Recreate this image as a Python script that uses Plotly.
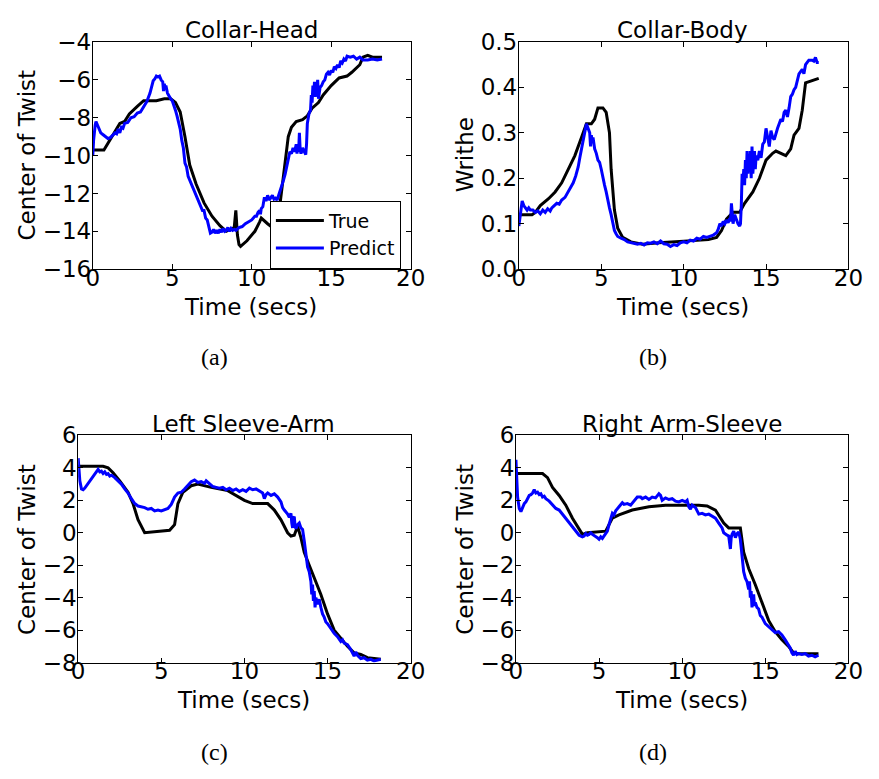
import plotly.graph_objects as go

# ---------------- data ----------------
a_true_t = [0, 0.7, 1.2, 1.7, 2.0, 2.3, 2.8, 3.2, 3.5, 4.0, 4.5, 4.9, 5.2, 5.5, 5.8, 6.1, 6.5, 7.0, 7.5, 8.0, 8.4, 8.7, 8.9, 9.0, 9.1, 9.2, 9.3, 9.7, 10.2, 10.5, 10.6, 11.0, 11.3, 11.6, 11.8, 12.1, 12.3, 12.5, 12.8, 13.2, 13.5, 13.8, 14.2, 14.5, 15.0, 15.5, 16.0, 16.3, 16.8, 17.0, 17.3, 17.6, 18.2]
a_true_v = [-9.7, -9.7, -9.0, -8.3, -8.2, -7.8, -7.4, -7.1, -7.1, -7.1, -7.0, -7.0, -7.2, -7.7, -9.0, -10.5, -11.5, -12.5, -13.2, -13.7, -14.0, -13.9, -13.8, -12.9, -14.2, -14.7, -14.8, -14.5, -14.0, -13.5, -13.3, -13.6, -13.8, -13.8, -12.4, -10.5, -9.0, -8.5, -8.2, -8.1, -7.9, -7.5, -7.2, -6.8, -6.3, -5.9, -5.8, -5.6, -5.2, -4.8, -4.7, -4.8, -4.8]
a_pred = [(0, -10.0), (0.05, -9.2), (0.15, -8.4), (0.2, -8.2), (0.3, -8.4), (0.4, -8.6), (0.5, -8.8), (0.65, -8.9), (0.8, -9.0), (0.95, -9.1), (1.1, -9.05), (1.25, -8.95), (1.4, -8.8), (1.5, -8.85), (1.6, -8.6), (1.7, -8.8), (1.8, -8.5), (1.9, -8.55), (2.0, -8.3), (2.2, -8.25), (2.4, -8.0), (2.6, -7.95), (2.8, -7.75), (3.0, -7.7), (3.2, -7.45), (3.4, -7.15), (3.6, -6.7), (3.7, -6.4), (3.8, -6.05), (3.9, -5.95), (4.0, -5.8), (4.1, -5.85), (4.2, -5.8), (4.3, -6.0), (4.4, -6.1), (4.45, -6.6), (4.5, -6.2), (4.55, -6.5), (4.6, -6.3), (4.7, -6.7), (4.8, -6.9), (4.9, -7.0), (5.0, -7.1), (5.1, -7.3), (5.2, -7.6), (5.3, -7.9), (5.4, -8.2), (5.5, -8.6), (5.6, -9.2), (5.7, -9.6), (5.8, -10.4), (5.9, -10.6), (6.0, -11.1), (6.1, -11.3), (6.2, -11.5), (6.3, -11.7), (6.45, -12.0), (6.6, -12.3), (6.75, -12.5), (6.9, -12.9), (7.0, -12.9), (7.1, -13.3), (7.2, -13.4), (7.3, -13.8), (7.4, -14.1), (7.5, -14.05), (7.6, -13.9), (7.7, -14.1), (7.8, -13.95), (7.9, -14.1), (8.0, -13.9), (8.1, -14.05), (8.2, -13.85), (8.3, -14.0), (8.4, -13.95), (8.5, -13.8), (8.6, -14.0), (8.7, -13.85), (8.8, -13.95), (8.9, -13.9), (9.0, -13.95), (9.2, -13.8), (9.4, -13.75), (9.6, -13.6), (9.8, -13.5), (10.0, -13.4), (10.2, -13.2), (10.3, -13.2), (10.4, -13.0), (10.5, -12.9), (10.55, -13.1), (10.6, -12.8), (10.7, -12.7), (10.8, -12.2), (10.9, -12.4), (11.0, -12.1), (11.1, -12.35), (11.2, -12.2), (11.3, -12.1), (11.4, -12.3), (11.5, -12.25), (11.6, -12.35), (11.7, -12.1), (11.8, -11.9), (11.9, -11.6), (12.0, -11.3), (12.1, -11.0), (12.2, -10.6), (12.3, -10.2), (12.4, -9.8), (12.5, -9.9), (12.6, -9.6), (12.7, -9.8), (12.8, -9.4), (12.85, -9.9), (12.9, -9.5), (12.95, -9.8), (13.0, -8.8), (13.05, -9.7), (13.1, -9.9), (13.2, -9.6), (13.3, -9.8), (13.4, -9.95), (13.45, -9.4), (13.5, -8.3), (13.6, -7.8), (13.7, -7.6), (13.75, -6.8), (13.8, -7.2), (13.85, -6.3), (13.9, -6.8), (13.95, -6.1), (14.0, -6.9), (14.05, -6.2), (14.1, -6.6), (14.15, -6.0), (14.2, -7.0), (14.3, -6.4), (14.4, -6.3), (14.5, -6.1), (14.6, -6.0), (14.7, -5.7), (14.8, -5.6), (14.9, -5.75), (15.0, -5.5), (15.1, -5.6), (15.2, -5.3), (15.3, -5.4), (15.4, -5.2), (15.5, -5.35), (15.6, -5.0), (15.7, -5.1), (15.8, -4.9), (15.9, -5.0), (16.0, -4.75), (16.2, -4.8), (16.4, -4.75), (16.6, -4.9), (16.8, -4.8), (17.0, -4.95), (17.3, -4.95), (17.6, -4.9), (17.9, -4.95), (18.2, -4.9)]

b_true_t = [0, 0.8, 1.0, 1.3, 1.8, 2.2, 2.6, 3.0, 3.4, 3.8, 4.1, 4.4, 4.6, 4.8, 5.1, 5.3, 5.5, 5.6, 5.8, 6.0, 6.3, 6.8, 7.5, 8.5, 9.5, 10.5, 11.5, 12.0, 12.3, 12.6, 13.0, 13.4, 13.7, 14.2, 14.6, 15.0, 15.4, 15.6, 15.9, 16.2, 16.5, 16.7, 17.0, 17.2, 17.4, 17.8, 18.2]
b_true_v = [0.12, 0.12, 0.125, 0.14, 0.155, 0.17, 0.19, 0.22, 0.25, 0.29, 0.32, 0.32, 0.33, 0.355, 0.355, 0.345, 0.30, 0.22, 0.13, 0.09, 0.07, 0.06, 0.055, 0.058, 0.06, 0.063, 0.065, 0.07, 0.085, 0.11, 0.125, 0.125, 0.145, 0.17, 0.20, 0.24, 0.255, 0.26, 0.255, 0.25, 0.265, 0.295, 0.31, 0.35, 0.41, 0.415, 0.42]
b_pred = [(0, 0.095), (0.05, 0.11), (0.1, 0.13), (0.2, 0.15), (0.3, 0.14), (0.4, 0.135), (0.5, 0.13), (0.6, 0.135), (0.7, 0.13), (0.85, 0.13), (1.0, 0.125), (1.15, 0.128), (1.3, 0.122), (1.45, 0.13), (1.6, 0.125), (1.75, 0.133), (1.9, 0.128), (2.0, 0.135), (2.15, 0.14), (2.3, 0.145), (2.45, 0.143), (2.6, 0.152), (2.8, 0.158), (3.0, 0.17), (3.15, 0.178), (3.3, 0.19), (3.45, 0.205), (3.6, 0.225), (3.7, 0.245), (3.8, 0.265), (3.9, 0.285), (4.0, 0.305), (4.1, 0.32), (4.2, 0.31), (4.3, 0.30), (4.35, 0.27), (4.4, 0.295), (4.45, 0.28), (4.5, 0.29), (4.6, 0.265), (4.7, 0.255), (4.8, 0.24), (4.9, 0.235), (5.0, 0.22), (5.1, 0.2), (5.2, 0.185), (5.3, 0.17), (5.4, 0.15), (5.5, 0.135), (5.6, 0.12), (5.7, 0.1), (5.8, 0.085), (5.9, 0.078), (6.0, 0.072), (6.2, 0.068), (6.4, 0.065), (6.6, 0.06), (6.8, 0.058), (7.0, 0.056), (7.2, 0.055), (7.4, 0.057), (7.6, 0.053), (7.8, 0.058), (8.0, 0.057), (8.2, 0.06), (8.4, 0.056), (8.6, 0.062), (8.8, 0.056), (9.0, 0.055), (9.2, 0.05), (9.4, 0.054), (9.6, 0.052), (9.8, 0.058), (10.0, 0.06), (10.2, 0.058), (10.4, 0.064), (10.6, 0.062), (10.8, 0.068), (11.0, 0.066), (11.2, 0.072), (11.4, 0.07), (11.6, 0.072), (11.8, 0.075), (12.0, 0.08), (12.1, 0.088), (12.2, 0.1), (12.3, 0.095), (12.4, 0.105), (12.5, 0.1), (12.6, 0.108), (12.7, 0.102), (12.8, 0.112), (12.85, 0.105), (12.9, 0.145), (12.95, 0.11), (13.0, 0.1), (13.1, 0.12), (13.2, 0.11), (13.3, 0.1), (13.4, 0.095), (13.45, 0.1), (13.5, 0.14), (13.55, 0.21), (13.6, 0.19), (13.65, 0.22), (13.7, 0.185), (13.75, 0.24), (13.8, 0.2), (13.85, 0.26), (13.9, 0.21), (13.95, 0.25), (14.0, 0.22), (14.05, 0.26), (14.1, 0.2), (14.15, 0.27), (14.2, 0.21), (14.3, 0.26), (14.35, 0.22), (14.4, 0.25), (14.5, 0.24), (14.6, 0.26), (14.7, 0.245), (14.8, 0.275), (14.9, 0.28), (15.0, 0.31), (15.1, 0.29), (15.2, 0.27), (15.3, 0.305), (15.4, 0.29), (15.5, 0.285), (15.6, 0.3), (15.7, 0.31), (15.8, 0.32), (15.9, 0.33), (16.0, 0.325), (16.1, 0.345), (16.2, 0.35), (16.3, 0.335), (16.4, 0.355), (16.5, 0.38), (16.6, 0.385), (16.7, 0.395), (16.8, 0.4), (16.9, 0.415), (17.0, 0.43), (17.1, 0.435), (17.2, 0.44), (17.3, 0.43), (17.4, 0.45), (17.5, 0.455), (17.6, 0.46), (17.8, 0.46), (17.9, 0.458), (18.0, 0.466), (18.1, 0.455), (18.2, 0.455)]

c_true_t = [0, 1.5, 1.8, 2.1, 2.5, 3.0, 3.3, 3.6, 4.0, 4.5, 5.0, 5.5, 5.8, 6.0, 6.3, 6.8, 7.2, 8.0, 9.0, 9.5, 10.0, 10.5, 11.0, 11.4, 11.8, 12.2, 12.6, 12.8, 13.0, 13.2, 13.4, 13.6, 13.9, 14.2, 14.6, 15.0, 15.4, 15.8, 16.2, 16.6, 17.0, 17.4, 18.0, 18.2]
c_true_v = [4.1, 4.1, 4.0, 3.7, 3.2, 2.5, 1.8, 0.8, 0.0, 0.05, 0.1, 0.15, 0.5, 1.8, 2.5, 2.9, 3.0, 2.8, 2.6, 2.3, 2.0, 1.8, 1.8, 1.8, 1.4, 0.8, 0.0, -0.2, -0.15, 0.4, -0.3, -1.2, -2.0, -2.8, -3.8, -5.0, -6.0, -6.5, -7.0, -7.4, -7.5, -7.7, -7.8, -7.8]
c_pred = [(0, 4.6), (0.05, 3.8), (0.1, 3.2), (0.2, 2.7), (0.3, 2.65), (0.4, 2.75), (0.5, 2.9), (0.6, 3.05), (0.7, 3.2), (0.8, 3.3), (0.9, 3.45), (1.0, 3.6), (1.1, 3.75), (1.2, 3.9), (1.3, 3.75), (1.4, 3.8), (1.5, 3.65), (1.6, 3.75), (1.7, 3.6), (1.8, 3.65), (1.9, 3.5), (2.0, 3.55), (2.2, 3.4), (2.4, 3.2), (2.6, 3.0), (2.8, 2.7), (3.0, 2.45), (3.2, 2.1), (3.4, 1.8), (3.6, 1.65), (3.8, 1.6), (4.0, 1.55), (4.2, 1.45), (4.4, 1.5), (4.6, 1.35), (4.8, 1.4), (5.0, 1.35), (5.2, 1.45), (5.4, 1.5), (5.6, 1.75), (5.8, 2.2), (6.0, 2.45), (6.2, 2.5), (6.4, 2.7), (6.6, 2.95), (6.8, 3.15), (7.0, 3.25), (7.2, 3.1), (7.4, 3.15), (7.6, 3.05), (7.7, 3.2), (7.9, 3.0), (8.1, 2.85), (8.3, 2.8), (8.5, 2.75), (8.7, 2.8), (8.9, 2.65), (9.1, 2.75), (9.3, 2.6), (9.5, 2.7), (9.7, 2.55), (9.9, 2.65), (10.1, 2.55), (10.3, 2.75), (10.5, 2.65), (10.7, 2.7), (10.9, 2.55), (11.1, 2.45), (11.2, 2.1), (11.3, 2.35), (11.4, 2.45), (11.6, 2.3), (11.8, 2.4), (12.0, 2.2), (12.2, 1.9), (12.3, 1.55), (12.4, 1.4), (12.5, 1.3), (12.6, 1.15), (12.7, 0.95), (12.8, 1.2), (12.85, 0.6), (12.9, 0.3), (12.95, 0.9), (13.0, 1.0), (13.05, 0.4), (13.1, 0.25), (13.2, 0.5), (13.3, 0.6), (13.4, 0.3), (13.5, 0.2), (13.6, -0.5), (13.7, -1.5), (13.8, -2.1), (13.9, -2.4), (14.0, -3.0), (14.05, -3.8), (14.1, -3.2), (14.15, -4.2), (14.2, -3.6), (14.25, -4.6), (14.3, -4.0), (14.4, -4.4), (14.5, -4.1), (14.6, -4.6), (14.7, -5.0), (14.8, -5.2), (14.9, -5.5), (15.0, -5.6), (15.1, -5.8), (15.2, -5.9), (15.4, -6.2), (15.6, -6.4), (15.8, -6.7), (15.9, -6.6), (16.0, -6.8), (16.2, -6.9), (16.4, -7.2), (16.5, -7.4), (16.6, -7.6), (16.7, -7.35), (16.8, -7.55), (17.0, -7.75), (17.2, -7.7), (17.4, -7.85), (17.6, -7.8), (17.8, -7.9), (18.0, -7.85), (18.2, -7.8)]

d_true_t = [0, 1.6, 1.9, 2.2, 2.6, 3.0, 3.4, 3.8, 4.0, 4.3, 5.0, 5.4, 5.8, 6.2, 7.0, 8.0, 9.0, 10.0, 11.0, 11.5, 12.0, 12.5, 12.8, 13.2, 13.5, 13.7, 14.0, 14.4, 14.8, 15.2, 15.6, 16.0, 16.4, 16.7, 17.0, 18.2]
d_true_v = [3.65, 3.65, 3.4, 2.8, 2.3, 1.7, 0.9, 0.2, -0.1, 0.0, 0.05, 0.1, 0.9, 1.1, 1.4, 1.6, 1.7, 1.7, 1.7, 1.65, 1.4, 0.6, 0.3, 0.3, 0.3, -1.2, -2.2, -3.2, -4.3, -5.4, -6.1, -6.6, -7.0, -7.4, -7.45, -7.45]
d_pred = [(0, 4.5), (0.05, 3.0), (0.1, 2.2), (0.2, 1.5), (0.3, 1.3), (0.4, 1.55), (0.5, 1.8), (0.6, 1.9), (0.7, 2.1), (0.8, 2.3), (0.9, 2.35), (1.0, 2.45), (1.1, 2.65), (1.2, 2.45), (1.3, 2.5), (1.4, 2.35), (1.5, 2.4), (1.6, 2.2), (1.7, 2.25), (1.8, 2.1), (2.0, 1.95), (2.2, 1.75), (2.4, 1.5), (2.6, 1.4), (2.8, 1.15), (3.0, 0.9), (3.2, 0.6), (3.4, 0.35), (3.6, 0.1), (3.8, -0.15), (4.0, -0.25), (4.1, -0.2), (4.2, -0.05), (4.3, -0.15), (4.4, -0.1), (4.5, 0.0), (4.6, -0.1), (4.7, -0.15), (4.8, -0.2), (4.9, -0.3), (5.0, -0.4), (5.1, -0.25), (5.2, -0.35), (5.3, -0.2), (5.4, -0.1), (5.5, 0.1), (5.6, 0.5), (5.7, 0.9), (5.8, 1.2), (5.9, 1.1), (6.0, 1.35), (6.2, 1.6), (6.4, 1.85), (6.5, 1.75), (6.7, 1.8), (6.9, 1.7), (7.1, 1.95), (7.3, 2.2), (7.5, 2.2), (7.6, 2.1), (7.8, 2.2), (8.0, 2.05), (8.2, 2.2), (8.4, 2.15), (8.6, 2.4), (8.7, 2.3), (8.8, 2.0), (9.0, 2.15), (9.2, 2.05), (9.4, 2.1), (9.6, 1.95), (9.8, 1.9), (10.0, 2.0), (10.2, 1.9), (10.3, 2.0), (10.4, 1.6), (10.5, 1.45), (10.6, 1.7), (10.8, 1.55), (11.0, 1.15), (11.2, 1.2), (11.4, 1.1), (11.6, 1.15), (11.8, 1.0), (12.0, 0.9), (12.2, 0.6), (12.4, 0.3), (12.5, 0.0), (12.6, -0.1), (12.7, -0.15), (12.8, -0.2), (12.85, -0.5), (12.9, -1.0), (12.95, -0.3), (13.0, -0.1), (13.1, 0.1), (13.2, -0.3), (13.3, -0.05), (13.4, 0.05), (13.5, -0.4), (13.6, -1.5), (13.7, -2.4), (13.8, -2.8), (13.9, -3.0), (14.0, -3.5), (14.05, -3.0), (14.1, -4.0), (14.15, -3.6), (14.2, -4.6), (14.3, -3.8), (14.35, -4.5), (14.4, -4.3), (14.5, -4.6), (14.6, -4.7), (14.7, -5.1), (14.8, -5.2), (15.0, -5.6), (15.2, -5.8), (15.4, -6.0), (15.6, -6.15), (15.8, -6.1), (16.0, -6.3), (16.2, -6.6), (16.4, -6.9), (16.5, -7.1), (16.6, -7.4), (16.7, -7.55), (16.8, -7.3), (16.9, -7.5), (17.0, -7.45), (17.2, -7.5), (17.4, -7.45), (17.6, -7.6), (17.8, -7.55), (18.0, -7.65), (18.2, -7.55)]

titles = ["Collar-Head", "Collar-Body", "Left Sleeve-Arm", "Right Arm-Sleeve"]
ylabels = ["Center of Twist", "Writhe", "Center of Twist", "Center of Twist"]
captions = ["(a)", "(b)", "(c)", "(d)"]
yranges = [[-16, -4], [0.0, 0.5], [-8, 6], [-8, 6]]
ydticks = [2, 0.1, 2, 2]

W, H = 879, 779
# plot boxes in pixels: left, right, top, bottom
boxes = [(88, 414, 30, 265), (525, 863, 30, 265), (73, 414, 437, 672), (522, 863, 437, 672)]
title_pos = [(251, 18), (693, 18), (243, 425), (692, 425)]
xlab_pos = [(250, 304), (693, 304), (243, 711), (692, 711)]
ylab_pos = [(21, 147), (470, 147), (21, 555), (470, 555)]
cap_pos = [(213, 356), (663, 356), (213, 764), (663, 764)]

series = [
    (a_true_t, a_true_v, a_pred),
    (b_true_t, b_true_v, b_pred),
    (c_true_t, c_true_v, c_pred),
    (d_true_t, d_true_v, d_pred),
]

FONT = "DejaVu Sans"
FS = 23
fig = go.Figure()
layout = dict(
    width=W, height=H, margin=dict(l=0, r=0, t=0, b=0),
    paper_bgcolor="white", plot_bgcolor="white",
    font=dict(family=FONT, size=FS, color="black"),
    showlegend=True,
    legend=dict(x=404 / W, y=1 - 194 / H, xanchor="right", yanchor="top",
                bordercolor="black", borderwidth=1, bgcolor="white",
                font=dict(size=19), tracegroupgap=0, itemwidth=48),
)
annotations = []
for i in range(4):
    tt, tv, pred = series[i]
    pt = [p[0] for p in pred]
    pv = [p[1] for p in pred]
    sfx = "" if i == 0 else str(i + 1)
    xa, ya = "x" + sfx, "y" + sfx
    fig.add_trace(go.Scatter(x=tt, y=tv, mode="lines", name="True", xaxis=xa, yaxis=ya,
                             line=dict(color="black", width=3), showlegend=(i == 0)))
    fig.add_trace(go.Scatter(x=pt, y=pv, mode="lines", name="Predict", xaxis=xa, yaxis=ya,
                             line=dict(color="#0000ff", width=3), showlegend=(i == 0)))
    l, r, t, b = boxes[i]
    axcommon = dict(showline=True, linecolor="black", linewidth=1, mirror="allticks",
                    ticks="inside", ticklen=5, tickcolor="black", showgrid=False,
                    zeroline=False, tickfont=dict(size=FS, family=FONT))
    layout["xaxis" + sfx] = dict(domain=[l / W, r / W], anchor=ya, range=[0, 20],
                                 dtick=5, tick0=0, ticklabelstandoff=-12, **axcommon)
    layout["yaxis" + sfx] = dict(domain=[1 - b / H, 1 - t / H], anchor=xa, range=yranges[i],
                                 dtick=ydticks[i], tick0=0, ticklabelstandoff=-4,
                                 tickformat=".1f" if i == 1 else "d", **axcommon)
    annotations.append(dict(text=titles[i], x=title_pos[i][0] / W, y=1 - title_pos[i][1] / H,
                            xref="paper", yref="paper", showarrow=False,
                            xanchor="center", yanchor="middle", font=dict(size=FS)))
    annotations.append(dict(text="Time (secs)", x=xlab_pos[i][0] / W, y=1 - xlab_pos[i][1] / H,
                            xref="paper", yref="paper", showarrow=False,
                            xanchor="center", yanchor="middle", font=dict(size=FS)))
    annotations.append(dict(text=ylabels[i], x=ylab_pos[i][0] / W, y=1 - ylab_pos[i][1] / H,
                            xref="paper", yref="paper", showarrow=False, textangle=-90,
                            xanchor="center", yanchor="middle", font=dict(size=FS)))
    annotations.append(dict(text=captions[i], x=cap_pos[i][0] / W, y=1 - cap_pos[i][1] / H,
                            xref="paper", yref="paper", showarrow=False,
                            xanchor="center", yanchor="middle",
                            font=dict(size=24, family="Liberation Serif")))
layout["annotations"] = annotations
fig.update_layout(**layout)
fig.write_html("out.html")
